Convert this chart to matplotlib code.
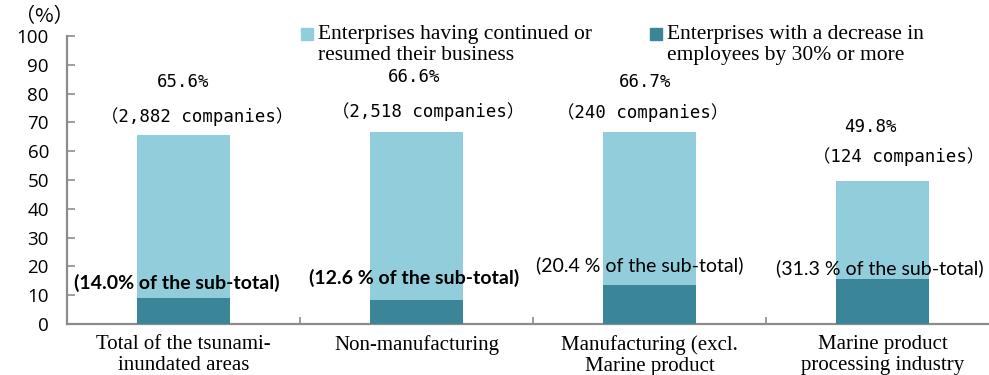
import matplotlib
matplotlib.use("Agg")
import matplotlib.pyplot as plt
from matplotlib.patches import Rectangle
from matplotlib.ticker import FixedLocator

# sectors and shares (%)
sectors = ["Total of the tsunami-\ninundated areas",
           "Non-manufacturing",
           "Manufacturing (excl.\nMarine product\nprocessing industry)",
           "Marine product\nprocessing industry"]
resumed = [65.6, 66.6, 66.7, 49.8]
companies = ["2,882", "2,518", "240", "124"]
subtotal_share = [14.0, 12.6, 20.4, 31.3]
decreased = [r * s / 100 for r, s in zip(resumed, subtotal_share)]

light = "#92CDDC"
dark = "#3A8598"
axis_grey = "#8C8C8C"

W, H = 989, 375
fig = plt.figure(figsize=(W / 100, H / 100), dpi=100)
ax = fig.add_axes([67 / W, 1 - 324 / H, 932 / W, 288 / H])

x = range(len(sectors))
ax.bar(x, resumed, width=0.4, color=light, zorder=2)
ax.bar(x, decreased, width=0.4, color=dark, zorder=3)

ax.set_xlim(-0.5, 3.5)
ax.set_ylim(0, 100)
ax.set_yticks(range(0, 101, 10))
ax.set_xticks(list(x))
ax.set_xticklabels(sectors, family="Liberation Serif", fontsize=15,
                   linespacing=1.12)
ax.xaxis.set_minor_locator(FixedLocator([0.5, 1.5, 2.5]))
ax.tick_params(axis="x", which="major", length=0, pad=8)
ax.tick_params(axis="x", which="minor", direction="in", length=5,
               color=axis_grey, width=1.2)
ax.tick_params(axis="y", direction="in", length=6, color=axis_grey,
               width=1.2, pad=13, labelsize=13.5)
for lbl in ax.get_yticklabels():
    lbl.set_family("Open Sans")

for side in ["top", "right"]:
    ax.spines[side].set_visible(False)
for side in ["left", "bottom"]:
    ax.spines[side].set_color(axis_grey)
    ax.spines[side].set_linewidth(1.6)

mono = ["DejaVu Sans Mono", "Noto Sans CJK JP"]

# share and company count above each bar
pct_pos = [(0.0, 84.0), (0.99, 85.8), (1.98, 84.0), (2.95, 68.4)]
cnt_pos = [(0.06, 72.0), (1.05, 73.6), (1.97, 73.3), (3.07, 58.0)]
for i in x:
    px, py = pct_pos[i]
    ax.text(px, py, f"{resumed[i]}%", ha="center", va="center",
            family=mono, fontsize=12.5)
    cx, cy = cnt_pos[i]
    ax.text(cx, cy, f"（{companies[i]} companies）", ha="center",
            va="center", family=mono, fontsize=12.5)

# share of the sub-total next to the dark bars
sub_pos = [(-0.03, 14.2), (0.99, 16.0), (1.96, 20.5), (2.99, 19.4)]
sub_text = ["(14.0% of the sub-total)", "(12.6 % of the sub-total)",
            "(20.4 % of the sub-total)", "(31.3 % of the sub-total)"]
for i in x:
    sx, sy = sub_pos[i]
    ax.text(sx, sy, sub_text[i], ha="center", va="center",
            family="Lato", fontsize=14,
            fontweight="bold" if i < 2 else "normal", zorder=5)

fig.text(44 / W, 1 - 17 / H, "（%）", ha="center", va="center",
         family=["Noto Sans CJK JP", "DejaVu Sans"], fontsize=14.5)

# legend drawn by hand so the swatch sits on the first text line
legend_items = [
    (301, light, "Enterprises having continued or\nresumed their business"),
    (650, dark, "Enterprises with a decrease in\nemployees by 30% or more"),
]
for left, colour, label in legend_items:
    fig.patches.append(Rectangle((left / W, 1 - 40 / H), 12 / W, 12 / H,
                                 transform=fig.transFigure, color=colour))
    fig.text((left + 17) / W, 1 - 25 / H, label, ha="left", va="top",
             family="Liberation Serif", fontsize=15.5, linespacing=1.16)

fig.savefig("out.png", dpi=100)
